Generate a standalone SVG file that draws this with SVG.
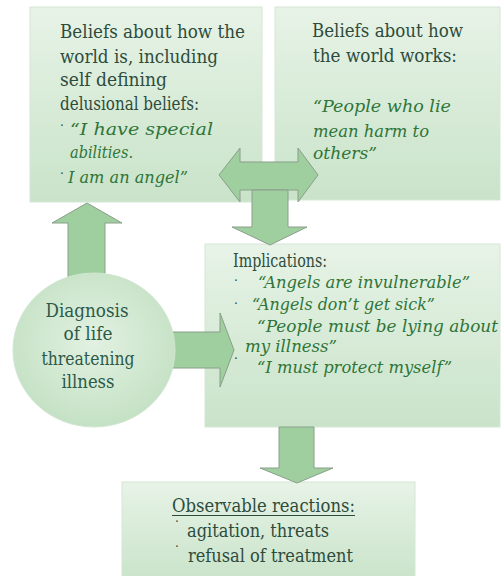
<svg xmlns="http://www.w3.org/2000/svg" width="502" height="576" viewBox="0 0 502 576">
<defs>
<linearGradient id="boxg" x1="0" y1="0" x2="0" y2="1">
<stop offset="0" stop-color="#e7f3e7"/>
<stop offset="1" stop-color="#c9e3c9"/>
</linearGradient>
<radialGradient id="circg" cx="0.5" cy="0.45" r="0.6">
<stop offset="0" stop-color="#e2f1e2"/>
<stop offset="1" stop-color="#c2e0c2"/>
</radialGradient>
<style>
.box{fill:url(#boxg);stroke:#d6e6d6;stroke-width:1}
.arrow{fill:#9fcf9f;stroke:#8a9e8a;stroke-width:1;stroke-linejoin:miter}
text{font-family:"DejaVu Serif",serif}
.t{font-size:18px;fill:#2e4c3c}
.q{font-size:16px;font-style:italic;fill:#2f7538}
.b{font-size:12px;fill:#2e4c3c}
.c{font-size:18px;fill:#2c5a48;text-anchor:middle}
</style>
</defs>
<rect width="502" height="576" fill="#ffffff"/>

<g id="node-beliefs-world-is">
<rect class="box" x="30" y="7" width="232" height="195"/>
<text class="t" x="60" y="38" textLength="185" lengthAdjust="spacingAndGlyphs">Beliefs about how the</text>
<text class="t" x="60" y="63" textLength="158" lengthAdjust="spacingAndGlyphs">world is, including</text>
<text class="t" x="60" y="86" textLength="107" lengthAdjust="spacingAndGlyphs">self defining</text>
<text class="t" x="60" y="110" textLength="139" lengthAdjust="spacingAndGlyphs">delusional beliefs:</text>
<text class="b" x="60" y="130">·</text>
<text class="q" x="70" y="135" textLength="143" lengthAdjust="spacingAndGlyphs">“I have special</text>
<text class="q" x="70" y="158" textLength="63" lengthAdjust="spacingAndGlyphs">abilities.</text>
<text class="b" x="60" y="178">·</text>
<text class="q" x="68" y="183" textLength="120" lengthAdjust="spacingAndGlyphs">I am an angel”</text>
</g>

<g id="node-beliefs-world-works">
<rect class="box" x="275" y="7" width="225" height="193"/>
<text class="t" x="312" y="37" textLength="151" lengthAdjust="spacingAndGlyphs">Beliefs about how</text>
<text class="t" x="313" y="62" textLength="144" lengthAdjust="spacingAndGlyphs">the world works:</text>
<text class="q" x="313" y="112" textLength="138" lengthAdjust="spacingAndGlyphs">“People who lie</text>
<text class="q" x="313" y="137" textLength="116" lengthAdjust="spacingAndGlyphs">mean harm to</text>
<text class="q" x="313" y="159" textLength="64" lengthAdjust="spacingAndGlyphs">others”</text>
</g>

<g id="node-implications">
<rect class="box" x="205" y="244" width="295" height="183"/>
<text class="t" x="233" y="267" textLength="94" lengthAdjust="spacingAndGlyphs">Implications:</text>
<text class="b" x="234" y="285">·</text>
<text class="q" x="258" y="288" textLength="212" lengthAdjust="spacingAndGlyphs">“Angels are invulnerable”</text>
<text class="b" x="234" y="308">·</text>
<text class="q" x="252" y="310" textLength="183" lengthAdjust="spacingAndGlyphs">“Angels don’t get sick”</text>
<text class="q" x="257" y="332" textLength="241" lengthAdjust="spacingAndGlyphs">“People must be lying about</text>
<text class="q" x="245" y="352" textLength="92" lengthAdjust="spacingAndGlyphs">my illness”</text>
<text class="b" x="234" y="363">·</text>
<text class="q" x="257" y="373" textLength="195" lengthAdjust="spacingAndGlyphs">“I must protect myself”</text>
</g>

<g id="node-observable">
<rect class="box" x="122" y="482" width="293" height="100"/>
<text class="t" x="172" y="512" textLength="183" lengthAdjust="spacingAndGlyphs">Observable reactions:</text>
<line x1="172" y1="515.5" x2="355" y2="515.5" stroke="#2e4c3c" stroke-width="1"/>
<text class="b" x="175" y="526">·</text>
<text class="t" x="187" y="537" textLength="142" lengthAdjust="spacingAndGlyphs">agitation, threats</text>
<text class="b" x="175" y="551">·</text>
<text class="t" x="188" y="562" textLength="165" lengthAdjust="spacingAndGlyphs">refusal of treatment</text>
</g>

<g id="connectors">
<polygon class="arrow" points="219,175 240,148 240,162 298,162 298,148 318,175 298,202 298,190 240,190 240,202"/>
<polygon class="arrow" points="252,190 288,190 288,227 307,227 270,245 232,227 252,227"/>
<polygon class="arrow" points="87,203 122,223 105,223 105,285 68,285 68,223 52,223"/>
<polygon class="arrow" points="165,332 220,332 220,313 234,350 220,387 220,368 165,368"/>
<polygon class="arrow" points="279,427 314,427 314,468 333,468 297,483 260,468 279,468"/>
</g>

<g id="node-diagnosis">
<ellipse cx="94" cy="350" rx="81" ry="77" fill="url(#circg)" stroke="#d0e6d0" stroke-width="1"/>
<text class="c" x="87" y="317" textLength="83" lengthAdjust="spacingAndGlyphs">Diagnosis</text>
<text class="c" x="88" y="340" textLength="49" lengthAdjust="spacingAndGlyphs">of life</text>
<text class="c" x="88" y="365" textLength="93" lengthAdjust="spacingAndGlyphs">threatening</text>
<text class="c" x="88" y="388" textLength="53" lengthAdjust="spacingAndGlyphs">illness</text>
</g>
</svg>
